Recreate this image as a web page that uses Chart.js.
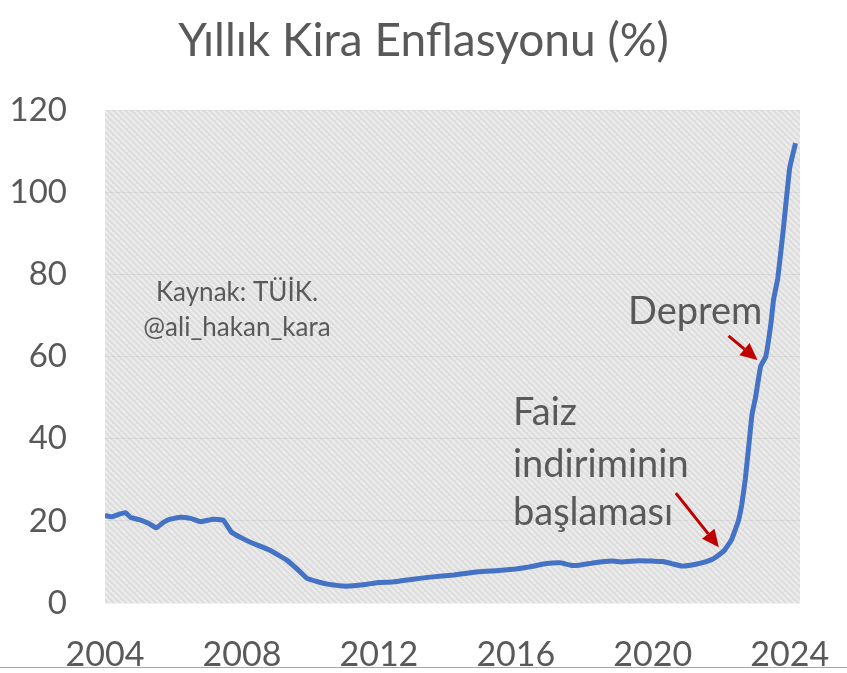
<!DOCTYPE html>
<html>
<head>
<meta charset="utf-8">
<script src="https://cdn.jsdelivr.net/npm/chart.js@4.4.1/dist/chart.umd.min.js"></script>
<style>
  html, body { margin: 0; padding: 0; background: #fff; }
  #wrap { position: relative; width: 847px; height: 673px; }
  #rule { position: absolute; left: 0; top: 667px; width: 847px; height: 1px; background: #a6a6a6; }
</style>
</head>
<body>
<div id="wrap">
  <canvas id="myChart" width="847" height="673"></canvas>
  <div id="rule"></div>
</div>
<script>
// yil (ondalik) ve yillik kira enflasyonu (%)
var years = [2004.0, 2004.2, 2004.4, 2004.6, 2004.75, 2005.0, 2005.25, 2005.5, 2005.7, 2005.9,
  2006.2, 2006.5, 2006.8, 2007.15, 2007.45, 2007.7, 2008.0, 2008.3, 2008.8, 2009.3,
  2009.7, 2009.9, 2010.2, 2010.5, 2011.05, 2011.6, 2012.0, 2012.4, 2013.0, 2013.5,
  2014.2, 2014.9, 2015.5, 2016.0, 2016.4, 2016.9, 2017.3, 2017.6, 2017.85, 2018.3,
  2018.8, 2019.1, 2019.6, 2020.0, 2020.3, 2020.55, 2020.85, 2021.1, 2021.4, 2021.7,
  2021.85, 2022.1, 2022.3, 2022.5, 2022.6, 2022.7, 2022.8, 2022.9, 2023.0, 2023.15,
  2023.3, 2023.45, 2023.53, 2023.65, 2023.8, 2024.0, 2024.17];
var rentInflation = [21.3, 21.0, 21.6, 22.0, 20.8, 20.3, 19.5, 18.3, 19.6, 20.4,
  20.9, 20.6, 19.8, 20.4, 20.2, 17.2, 15.8, 14.6, 12.9, 10.5,
  7.6, 6.0, 5.2, 4.6, 4.1, 4.5, 5.0, 5.1, 5.8, 6.3,
  6.8, 7.6, 7.9, 8.3, 8.8, 9.6, 9.8, 9.2, 9.2, 9.8,
  10.2, 10.0, 10.3, 10.2, 10.1, 9.6, 9.0, 9.2, 9.7, 10.5,
  11.2, 12.9, 15.4, 20.0, 24.0, 30.0, 38.0, 46.0, 50.0, 57.6,
  60.0, 68.0, 74.0, 79.0, 90.0, 106.0, 112.0];
var yearTicks = [2004, 2008, 2012, 2016, 2020, 2024];
var valueTicks = [0, 20, 40, 60, 80, 100, 120];

// annotation anchors (data coordinates)
var depremTip = { x: 2023.06, y: 59.2 };
var faizTip = { x: 2021.93, y: 13.6 };

var textColor = "#595959";
var font = "Lato, 'Open Sans', sans-serif";

function makePattern(ctx) {
  var c = document.createElement("canvas");
  c.width = 6; c.height = 6;
  var p = c.getContext("2d");
  p.fillStyle = "#dedede";
  p.fillRect(0, 0, 6, 6);
  p.strokeStyle = "#eeeeee";
  p.lineWidth = 1.6;
  for (var k = -6; k <= 12; k += 6) {
    p.beginPath();
    p.moveTo(k, 0);
    p.lineTo(k + 6, 6);
    p.stroke();
  }
  return ctx.createPattern(c, "repeat");
}

function arrow(ctx, x0, y0, x1, y1) {
  var a = Math.atan2(y1 - y0, x1 - x0);
  var hl = 17, hw = 8;
  var bx = x1 - hl * Math.cos(a), by = y1 - hl * Math.sin(a);
  ctx.strokeStyle = "#c00000";
  ctx.fillStyle = "#c00000";
  ctx.lineWidth = 3;
  ctx.beginPath();
  ctx.moveTo(x0, y0);
  ctx.lineTo(bx, by);
  ctx.stroke();
  ctx.beginPath();
  ctx.moveTo(x1, y1);
  ctx.lineTo(bx + hw * Math.sin(a), by - hw * Math.cos(a));
  ctx.lineTo(bx - hw * Math.sin(a), by + hw * Math.cos(a));
  ctx.closePath();
  ctx.fill();
}

var background = {
  id: "background",
  beforeDraw: function (chart) {
    var a = chart.chartArea, ctx = chart.ctx;
    ctx.save();
    ctx.fillStyle = makePattern(ctx);
    ctx.fillRect(a.left, a.top, a.right - a.left, a.bottom - a.top);
    ctx.restore();
  }
};

var notes = {
  id: "notes",
  afterDatasetsDraw: function (chart) {
    var ctx = chart.ctx, xs = chart.scales.x, ys = chart.scales.y;
    ctx.save();
    ctx.fillStyle = textColor;
    ctx.textBaseline = "middle";
    ctx.textAlign = "center";
    ctx.font = "26px " + font;
    ctx.fillText("Kaynak: TÜİK.", 237, 293);
    ctx.fillText("@ali_hakan_kara", 237, 328);
    ctx.textAlign = "left";
    ctx.font = "38px " + font;
    ctx.fillText("Deprem", 628, 312);
    ctx.fillText("Faiz", 513, 413);
    ctx.fillText("indiriminin", 513, 465);
    ctx.fillText("başlaması", 513, 513);
    var dx = xs.getPixelForValue(depremTip.x), dy = ys.getPixelForValue(depremTip.y);
    arrow(ctx, dx - 29, dy - 24, dx, dy);
    var fx = xs.getPixelForValue(faizTip.x), fy = ys.getPixelForValue(faizTip.y);
    arrow(ctx, fx - 43, fy - 54, fx, fy);
    ctx.restore();
  }
};

new Chart("myChart", {
  type: "line",
  data: {
    datasets: [
      {
        data: years.map(function (x, i) { return { x: x, y: rentInflation[i] }; }),
        borderColor: "#4472c4",
        borderWidth: 5,
        pointRadius: 0,
        tension: 0.1,
        fill: false,
      },
    ],
  },
  plugins: [background, notes],
  options: {
    responsive: false,
    animation: false,
    layout: { padding: 0 },
    plugins: {
      legend: { display: false },
      tooltip: { enabled: false },
      title: {
        display: true,
        text: "Yıllık Kira Enflasyonu (%)",
        color: textColor,
        font: { family: font, size: 46, weight: "normal", lineHeight: 1.2 },
        padding: { top: 14, bottom: 41 },
      },
    },
    scales: {
      x: {
        type: "linear",
        min: 2004,
        max: 2024.3,
        afterFit: function (s) {
          s.height = 70;
          s.paddingLeft = 0;
          s.paddingRight = 47;
        },
        afterBuildTicks: function (s) { s.ticks = yearTicks.map(function (v) { return { value: v }; }); },
        grid: { display: false, drawTicks: false },
        border: { display: false },
        ticks: {
          color: textColor,
          font: { family: font, size: 34 },
          padding: 32,
          maxRotation: 0,
          autoSkip: false,
          callback: function (v) { return String(v); },
        },
      },
      y: {
        min: 0,
        max: 120,
        afterFit: function (s) { s.width = 105; },
        afterBuildTicks: function (s) { s.ticks = valueTicks.map(function (v) { return { value: v }; }); },
        grid: { color: "rgba(0,0,0,0.05)", drawTicks: false },
        border: { display: false },
        ticks: {
          color: textColor,
          font: { family: font, size: 33 },
          padding: 38,
        },
      },
    },
  },
});
</script>
</body>
</html>
